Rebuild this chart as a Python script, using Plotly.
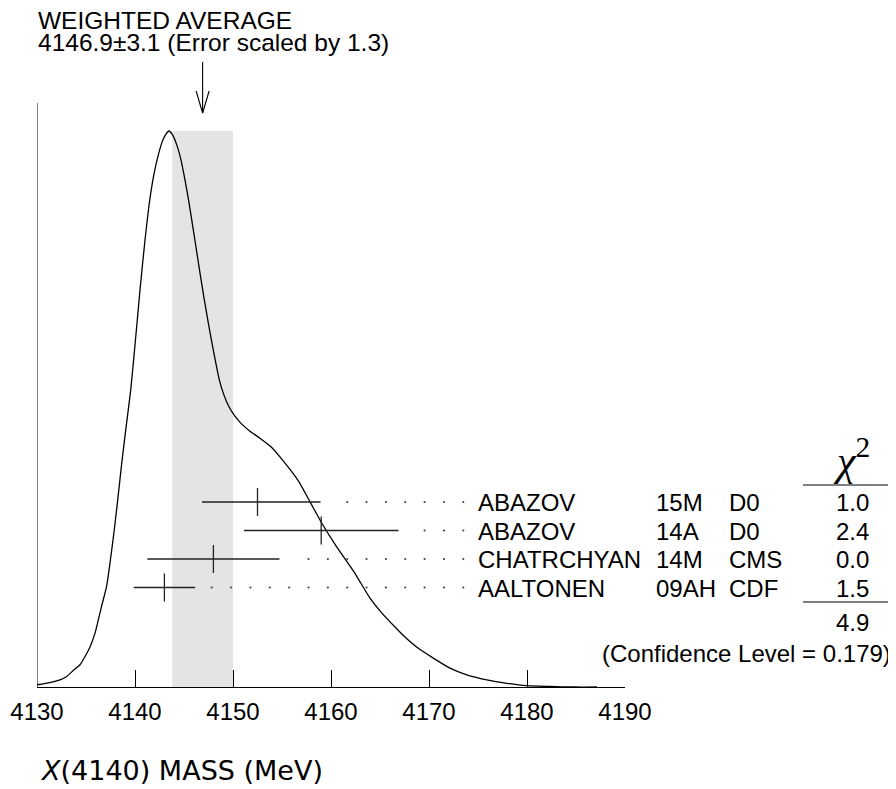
import plotly.graph_objects as go

# ---------------- data ----------------
tick_values = [4130, 4140, 4150, 4160, 4170, 4180, 4190]
avg_value = 4146.9
avg_error = 3.1
scale_factor = 1.3

authors = ["ABAZOV", "ABAZOV", "CHATRCHYAN", "AALTONEN"]
refs = ["15M", "14A", "14M", "09AH"]
experiments = ["D0", "D0", "CMS", "CDF"]
values = [4152.5, 4159.0, 4148.0, 4143.0]
err_plus = [6.43, 7.88, 6.74, 3.14]
err_minus = [5.66, 7.88, 6.74, 3.14]
chi2 = [1.0, 2.4, 0.0, 1.5]
chi2_total = 4.9
conf_level = 0.179

# ideogram curve (mass in MeV, relative height)
ideogram_mass = [4130.00, 4131.33, 4132.35, 4133.03, 4133.78, 4134.39, 4135.00, 4135.41,
                 4135.92, 4136.26, 4136.63, 4137.09, 4137.45, 4137.88, 4138.27, 4138.65,
                 4139.08, 4139.56, 4140.00, 4140.51, 4141.02, 4141.53, 4141.94, 4142.38,
                 4142.76, 4143.11, 4143.47, 4143.83, 4144.26, 4144.69, 4145.10, 4145.51,
                 4145.95, 4146.33, 4146.63, 4147.04, 4147.48, 4147.99, 4148.61, 4149.08,
                 4149.59, 4150.20, 4150.77, 4151.73, 4152.71, 4153.88, 4155.06, 4156.62,
                 4157.86, 4159.05, 4160.58, 4162.28, 4163.98, 4165.20, 4166.53, 4167.55,
                 4168.74, 4170.44, 4172.14, 4173.85, 4175.89, 4177.93, 4179.97, 4182.35,
                 4184.90, 4187.14]
ideogram_height = [0.004, 0.008, 0.013, 0.019, 0.031, 0.040, 0.058, 0.072,
                   0.097, 0.121, 0.148, 0.180, 0.223, 0.282, 0.342, 0.403,
                   0.466, 0.534, 0.615, 0.714, 0.804, 0.879, 0.923, 0.957,
                   0.980, 0.993, 1.000, 0.993, 0.975, 0.948, 0.912, 0.871,
                   0.822, 0.779, 0.745, 0.700, 0.655, 0.606, 0.552, 0.525,
                   0.504, 0.487, 0.475, 0.460, 0.448, 0.432, 0.408, 0.372,
                   0.333, 0.295, 0.252, 0.209, 0.160, 0.133, 0.108, 0.090,
                   0.072, 0.052, 0.034, 0.022, 0.013, 0.0067, 0.0023, 0.0009,
                   0.0, 0.0]

# ---------------- geometry (reference pixel frame, page has an 8px body margin) ----------------
OFF = 8
FW, FH = 896 - OFF, 789 - OFF
AX_L, AX_R, AX_B = 37, 625, 687          # reference-frame plot edges
ML = AX_L - OFF
MR = FW - (AX_R - OFF)
MT = 0
MB = FH - (AX_B - OFF)
PW = AX_R - AX_L
PH = (AX_B - OFF) - MT
PEAK_PX = 556.0                          # pixels for relative height 1
YMAX = PH / PEAK_PX
XMIN, XMAX = tick_values[0], tick_values[-1]
PX_PER_MEV = PW / (XMAX - XMIN)

def xp(px):
    return (px - AX_L) / PW

def yp(py):
    return (AX_B - py) / PH

def ydata(py):
    return (AX_B - py) / PEAK_PX

TXT = "Liberation Sans, Arial, Helvetica, sans-serif"
fig = go.Figure()

# weighted-average band
fig.add_shape(type="rect", xref="x", yref="y",
              x0=avg_value - avg_error, x1=avg_value + avg_error, y0=0, y1=1.0,
              fillcolor="#e4e4e4", line=dict(width=0), layer="below")
# left vertical axis line
fig.add_shape(type="line", xref="x", yref="y", x0=XMIN, x1=XMIN, y0=0, y1=ydata(103),
              line=dict(color="black", width=1))

# ideogram
fig.add_trace(go.Scatter(x=ideogram_mass, y=ideogram_height, mode="lines",
                         line=dict(color="black", width=1.3, shape="spline", smoothing=0.6),
                         hoverinfo="skip", showlegend=False))

# measurement rows
row_y = [ydata(502 + 28.5 * i) for i in range(len(values))]
fig.add_trace(go.Scatter(
    x=values, y=row_y, mode="markers",
    marker=dict(symbol="line-ns-open", size=20, color="#222",
                line=dict(color="#222", width=1.3)),
    error_x=dict(type="data", symmetric=False, array=err_plus, arrayminus=err_minus,
                 width=0, thickness=1.3, color="#222"),
    hoverinfo="skip", showlegend=False))

# dotted leaders on a common grid
dot_last = XMIN + (463.3 - AX_L) / PX_PER_MEV
dot_step = 19.35 / PX_PER_MEV
gap = 15 / PX_PER_MEV
dx, dy = [], []
for v, ep, yy in zip(values, err_plus, row_y):
    start = v + ep + gap
    k = 0
    pts = []
    while dot_last - k * dot_step >= start:
        pts.append(dot_last - k * dot_step)
        k += 1
    dx += pts
    dy += [yy] * len(pts)
fig.add_trace(go.Scatter(x=dx, y=dy, mode="markers",
                         marker=dict(symbol="circle", size=2.2, color="#444"),
                         hoverinfo="skip", showlegend=False))

# arrow to the weighted average
wing = 6.5 / PX_PER_MEV
ay_top, ay_tip, ay_wing = ydata(62), ydata(113), ydata(91)
fig.add_trace(go.Scatter(
    x=[avg_value, avg_value, None, avg_value - wing, avg_value, avg_value + wing],
    y=[ay_top, ay_tip, None, ay_wing, ay_tip, ay_wing],
    mode="lines", line=dict(color="black", width=1.1),
    hoverinfo="skip", showlegend=False))

ann = []
def text(s, x, y, size=24, xanchor="left", family=TXT):
    ann.append(dict(text=s, x=xp(x), y=yp(y), xref="paper", yref="paper",
                    xanchor=xanchor, yanchor="middle", showarrow=False,
                    font=dict(family=family, size=size, color="black")))

text("WEIGHTED AVERAGE", 36, 20, size=24.5)
text(f"{avg_value}\u00b1{avg_error} (Error scaled by {scale_factor})", 36, 42, size=24.5)

for i in range(len(values)):
    yy = 502.5 + 28.5 * i
    text(authors[i], 476, yy)
    text(refs[i], 654, yy)
    text(experiments[i], 727, yy)
    text(f"{chi2[i]:.1f}", 852, yy, xanchor="center")

text(f"{chi2_total:.1f}", 852, 622, xanchor="center")
text(f"(Confidence Level = {conf_level})", 893, 653, xanchor="right")
text("<i>\u03c7</i><sup>2</sup>", 851, 457, size=42, xanchor="center",
     family="Liberation Serif, Times New Roman, serif")
text("<i>X</i>(4140) MASS (MeV)", 38, 770, size=27,
     family="DejaVu Sans, sans-serif")

# chi2 column separators
for py in (485, 602):
    fig.add_shape(type="line", xref="paper", yref="paper",
                  x0=xp(803), x1=xp(896), y0=yp(py), y1=yp(py),
                  line=dict(color="black", width=1))

fig.update_layout(
    width=FW, height=FH, margin=dict(l=ML, r=MR, t=MT, b=MB),
    paper_bgcolor="white", plot_bgcolor="white",
    annotations=ann,
    xaxis=dict(range=[XMIN, XMAX], tickvals=tick_values,
               ticktext=[str(t) for t in tick_values],
               ticks="inside", ticklen=17, tickwidth=1, tickcolor="black",
               ticklabelstandoff=3,
               showline=True, linecolor="black", linewidth=1,
               showgrid=False, zeroline=False,
               tickfont=dict(family=TXT, size=24, color="black")),
    yaxis=dict(range=[0, YMAX], visible=False, showgrid=False, zeroline=False),
)

fig.write_html("out.html")
